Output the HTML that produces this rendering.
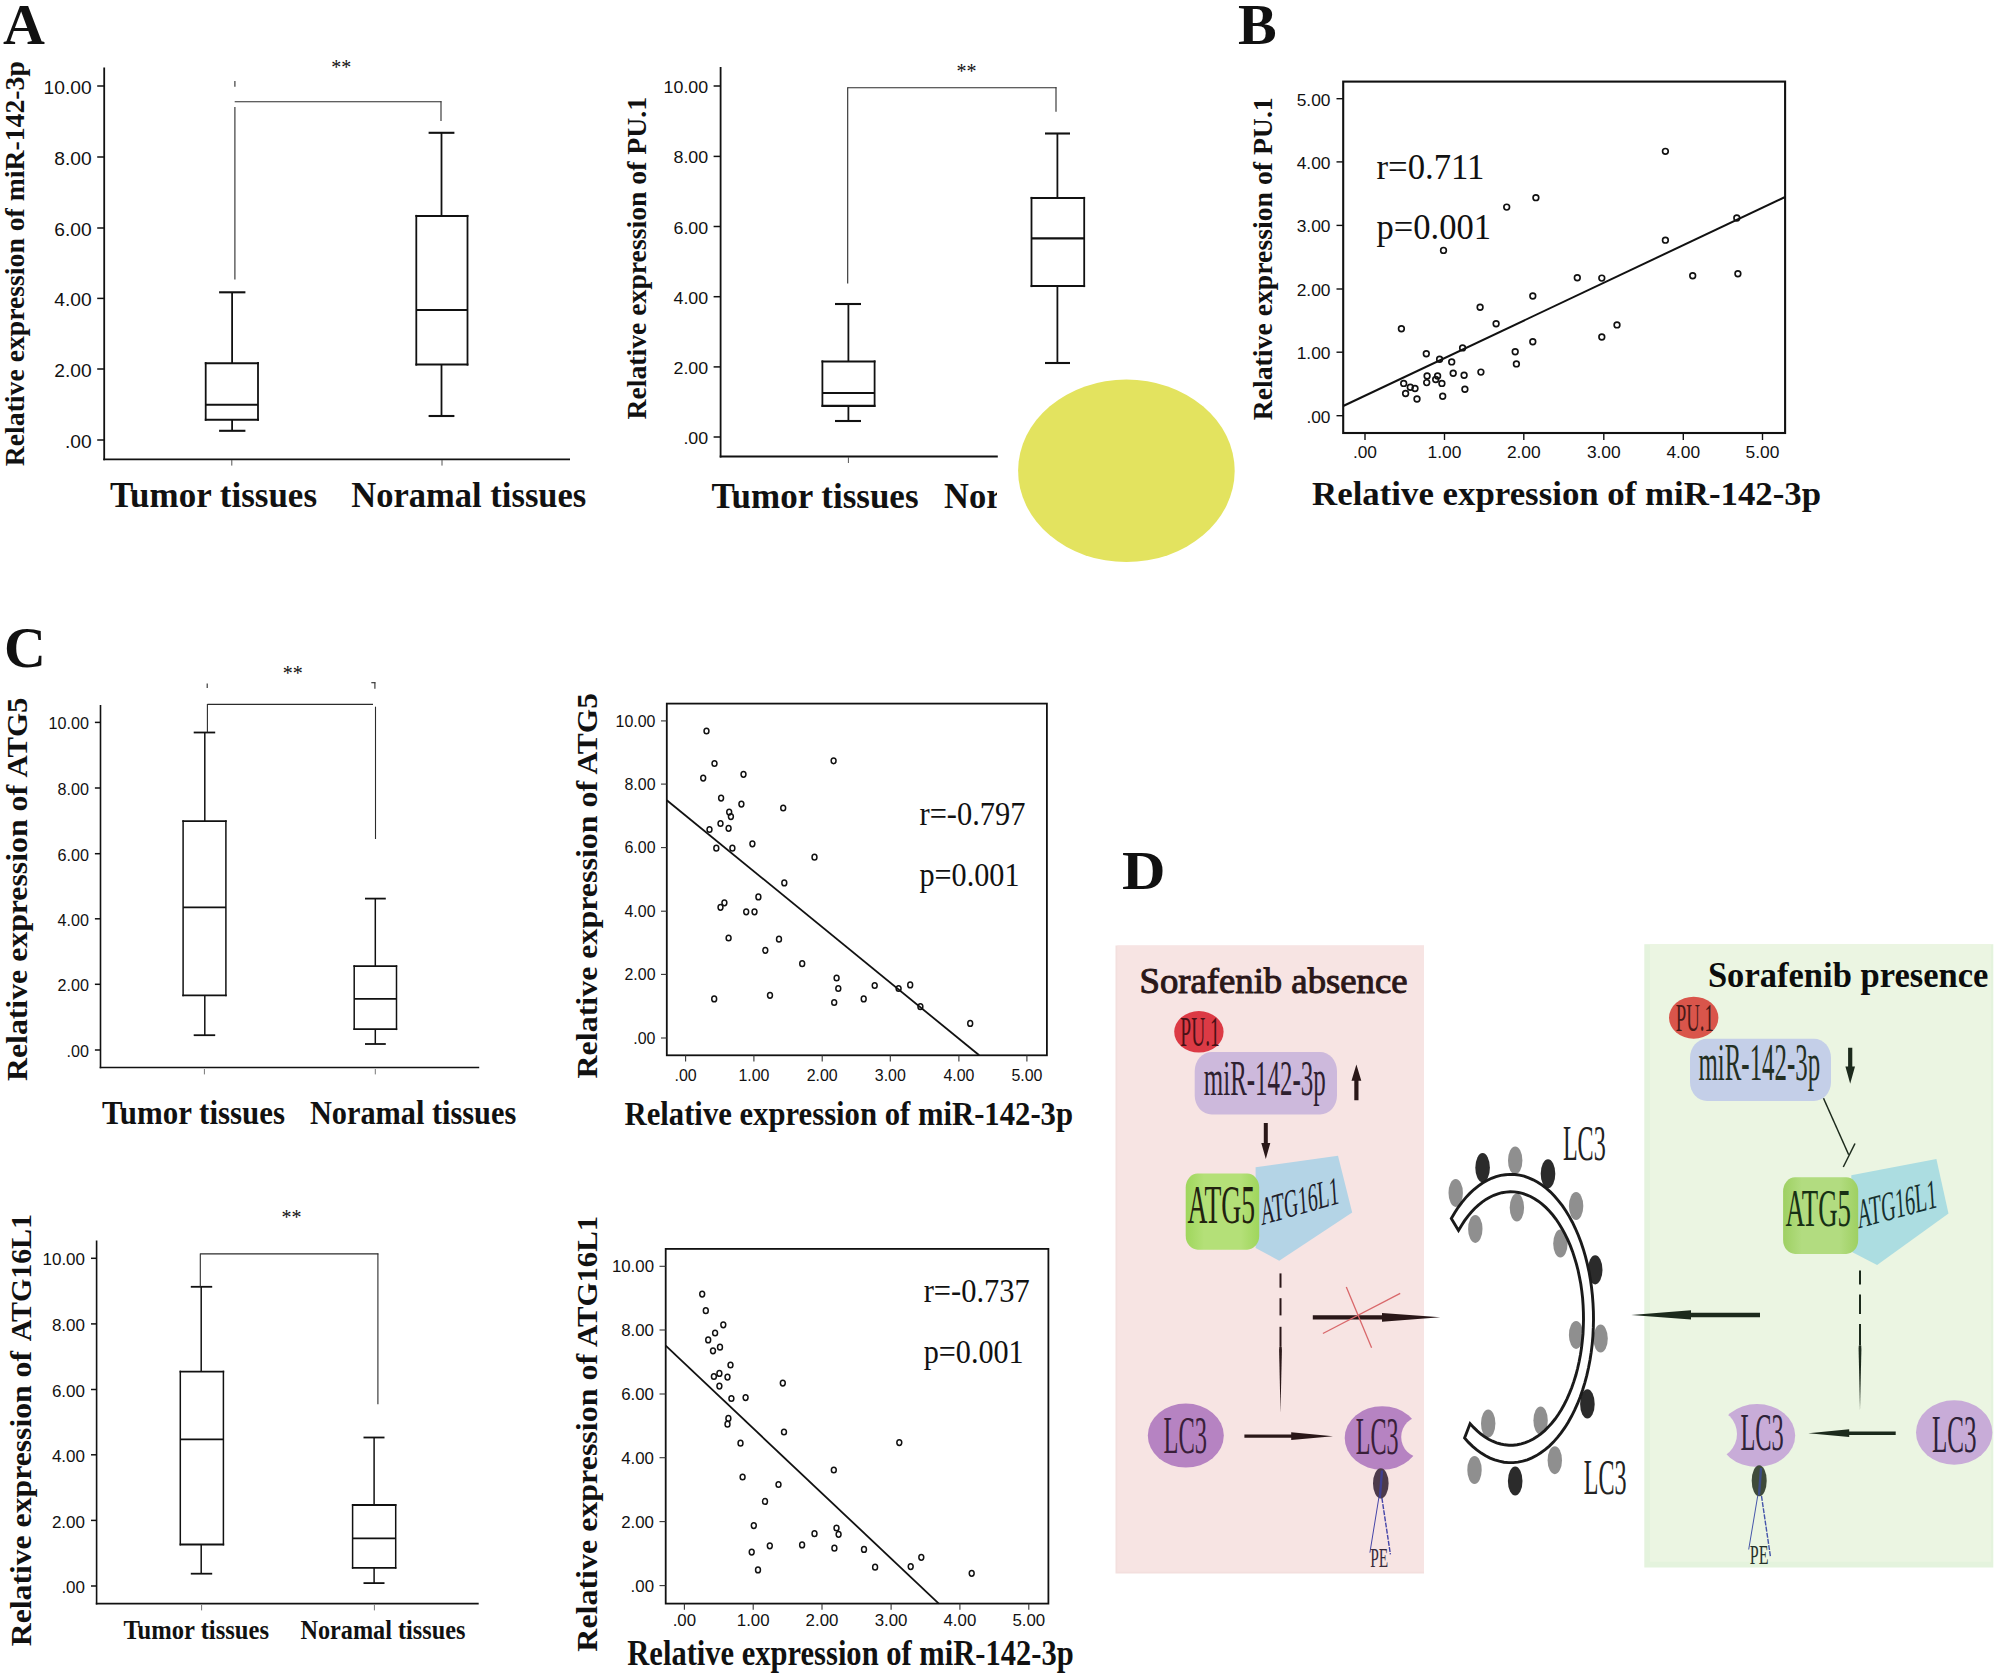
<!DOCTYPE html>
<html lang="en"><head><meta charset="utf-8"><title>Figure</title>
<style>
html,body{margin:0;padding:0;background:#fff;}
body{width:2000px;height:1676px;overflow:hidden;}
svg{display:block;}
text{white-space:pre;}
.se{font-family:"Liberation Serif","DejaVu Serif",serif;}
.sa{font-family:"Liberation Sans","DejaVu Sans",sans-serif;}
.b{font-weight:bold;}
</style></head><body>
<svg width="2000" height="1676" viewBox="0 0 2000 1676">
<rect x="0" y="0" width="2000" height="1676" fill="#fff"/>
<text x="3.0" y="44.2" class="se b" font-size="58" fill="#111">A</text>
<text x="1238.0" y="44.2" class="se b" font-size="58" fill="#111">B</text>
<text x="4.0" y="667.0" class="se b" font-size="58" fill="#111">C</text>
<text x="1122.0" y="888.8" class="se b" font-size="55" fill="#111" textLength="43.5" lengthAdjust="spacingAndGlyphs">D</text>
<g id="A1">
<line x1="104.2" y1="67.5" x2="104.2" y2="460.2" stroke="#111" stroke-width="1.8" />
<line x1="103.3" y1="459.3" x2="570.0" y2="459.3" stroke="#111" stroke-width="1.8" />
<line x1="97.2" y1="86.0" x2="104.2" y2="86.0" stroke="#111" stroke-width="1.5" />
<text x="43.6" y="93.6" class="sa" font-size="17.8" fill="#111" textLength="48.1" lengthAdjust="spacingAndGlyphs">10.00</text>
<line x1="97.2" y1="157.0" x2="104.2" y2="157.0" stroke="#111" stroke-width="1.5" />
<text x="54.3" y="164.6" class="sa" font-size="17.8" fill="#111" textLength="37.4" lengthAdjust="spacingAndGlyphs">8.00</text>
<line x1="97.2" y1="228.0" x2="104.2" y2="228.0" stroke="#111" stroke-width="1.5" />
<text x="54.3" y="235.6" class="sa" font-size="17.8" fill="#111" textLength="37.4" lengthAdjust="spacingAndGlyphs">6.00</text>
<line x1="97.2" y1="298.4" x2="104.2" y2="298.4" stroke="#111" stroke-width="1.5" />
<text x="54.3" y="306.0" class="sa" font-size="17.8" fill="#111" textLength="37.4" lengthAdjust="spacingAndGlyphs">4.00</text>
<line x1="97.2" y1="369.0" x2="104.2" y2="369.0" stroke="#111" stroke-width="1.5" />
<text x="54.3" y="376.6" class="sa" font-size="17.8" fill="#111" textLength="37.4" lengthAdjust="spacingAndGlyphs">2.00</text>
<line x1="97.2" y1="440.0" x2="104.2" y2="440.0" stroke="#111" stroke-width="1.5" />
<text x="65.0" y="447.6" class="sa" font-size="17.8" fill="#111" textLength="26.7" lengthAdjust="spacingAndGlyphs">.00</text>
<line x1="231.8" y1="460.0" x2="231.8" y2="465.6" stroke="#555" stroke-width="1" />
<line x1="442.0" y1="460.0" x2="442.0" y2="465.6" stroke="#555" stroke-width="1" />
<line x1="232.1" y1="292.3" x2="232.1" y2="363.2" stroke="#111" stroke-width="1.8" />
<line x1="232.1" y1="419.7" x2="232.1" y2="430.8" stroke="#111" stroke-width="1.8" />
<line x1="219.1" y1="292.3" x2="245.4" y2="292.3" stroke="#111" stroke-width="2.1" />
<line x1="219.1" y1="430.8" x2="245.4" y2="430.8" stroke="#111" stroke-width="2.1" />
<rect x="205.7" y="363.2" width="52.3" height="56.5" stroke="#111" stroke-width="0" fill="#fff" />
<line x1="205.7" y1="362.1" x2="205.7" y2="420.8" stroke="#111" stroke-width="1.8" />
<line x1="258.0" y1="362.1" x2="258.0" y2="420.8" stroke="#111" stroke-width="1.8" />
<line x1="204.8" y1="363.2" x2="258.9" y2="363.2" stroke="#111" stroke-width="2.1" />
<line x1="204.8" y1="419.7" x2="258.9" y2="419.7" stroke="#111" stroke-width="2.1" />
<line x1="205.7" y1="404.8" x2="258.0" y2="404.8" stroke="#111" stroke-width="2.1" />
<line x1="441.5" y1="132.8" x2="441.5" y2="216.0" stroke="#111" stroke-width="1.8" />
<line x1="441.5" y1="364.5" x2="441.5" y2="416.0" stroke="#111" stroke-width="1.8" />
<line x1="428.6" y1="132.8" x2="454.4" y2="132.8" stroke="#111" stroke-width="2.1" />
<line x1="428.6" y1="416.0" x2="454.4" y2="416.0" stroke="#111" stroke-width="2.1" />
<rect x="416.3" y="216.0" width="51.2" height="148.5" stroke="#111" stroke-width="0" fill="#fff" />
<line x1="416.3" y1="214.9" x2="416.3" y2="365.6" stroke="#111" stroke-width="1.8" />
<line x1="467.5" y1="214.9" x2="467.5" y2="365.6" stroke="#111" stroke-width="1.8" />
<line x1="415.4" y1="216.0" x2="468.4" y2="216.0" stroke="#111" stroke-width="2.1" />
<line x1="415.4" y1="364.5" x2="468.4" y2="364.5" stroke="#111" stroke-width="2.1" />
<line x1="416.3" y1="310.0" x2="467.5" y2="310.0" stroke="#111" stroke-width="2.1" />
<line x1="234.7" y1="101.7" x2="441.5" y2="101.7" stroke="#2b2b2b" stroke-width="1.1" />
<line x1="441.0" y1="101.2" x2="441.0" y2="121.0" stroke="#2b2b2b" stroke-width="1.1" />
<line x1="234.9" y1="107.0" x2="234.9" y2="279.5" stroke="#2b2b2b" stroke-width="1.1" />
<line x1="234.9" y1="81.0" x2="234.9" y2="86.7" stroke="#2b2b2b" stroke-width="1.1" />
<text x="331.3" y="73.8" class="se" font-size="20" fill="#111">**</text>
<text x="110.0" y="507.0" class="se b" font-size="35" fill="#111" textLength="207.0" lengthAdjust="spacingAndGlyphs">Tumor tissues</text>
<text x="351.3" y="507.0" class="se b" font-size="35" fill="#111" textLength="235.0" lengthAdjust="spacingAndGlyphs">Noramal tissues</text>
<text x="24.4" y="466.2" class="se b" font-size="28" fill="#111" textLength="405.0" lengthAdjust="spacingAndGlyphs" transform="rotate(-90 24.4 466.2)">Relative expression of miR-142-3p</text>
</g>
<g id="A2">
<line x1="720.6" y1="67.0" x2="720.6" y2="457.4" stroke="#111" stroke-width="1.8" />
<line x1="719.7" y1="456.5" x2="997.8" y2="456.5" stroke="#111" stroke-width="1.8" />
<line x1="713.6" y1="86.0" x2="720.6" y2="86.0" stroke="#111" stroke-width="1.5" />
<text x="663.6" y="93.0" class="sa" font-size="16.8" fill="#111" textLength="44.6" lengthAdjust="spacingAndGlyphs">10.00</text>
<line x1="713.6" y1="156.4" x2="720.6" y2="156.4" stroke="#111" stroke-width="1.5" />
<text x="673.5" y="163.4" class="sa" font-size="16.8" fill="#111" textLength="34.7" lengthAdjust="spacingAndGlyphs">8.00</text>
<line x1="713.6" y1="226.5" x2="720.6" y2="226.5" stroke="#111" stroke-width="1.5" />
<text x="673.5" y="233.5" class="sa" font-size="16.8" fill="#111" textLength="34.7" lengthAdjust="spacingAndGlyphs">6.00</text>
<line x1="713.6" y1="296.7" x2="720.6" y2="296.7" stroke="#111" stroke-width="1.5" />
<text x="673.5" y="303.7" class="sa" font-size="16.8" fill="#111" textLength="34.7" lengthAdjust="spacingAndGlyphs">4.00</text>
<line x1="713.6" y1="366.9" x2="720.6" y2="366.9" stroke="#111" stroke-width="1.5" />
<text x="673.5" y="373.9" class="sa" font-size="16.8" fill="#111" textLength="34.7" lengthAdjust="spacingAndGlyphs">2.00</text>
<line x1="713.6" y1="437.0" x2="720.6" y2="437.0" stroke="#111" stroke-width="1.5" />
<text x="683.4" y="444.0" class="sa" font-size="16.8" fill="#111" textLength="24.8" lengthAdjust="spacingAndGlyphs">.00</text>
<line x1="848.4" y1="457.0" x2="848.4" y2="463.0" stroke="#555" stroke-width="1" />
<line x1="848.4" y1="304.0" x2="848.4" y2="361.5" stroke="#111" stroke-width="1.8" />
<line x1="848.4" y1="405.9" x2="848.4" y2="421.0" stroke="#111" stroke-width="1.8" />
<line x1="835.0" y1="304.0" x2="861.0" y2="304.0" stroke="#111" stroke-width="2.1" />
<line x1="835.0" y1="421.0" x2="861.0" y2="421.0" stroke="#111" stroke-width="2.1" />
<rect x="822.4" y="361.5" width="52.2" height="44.4" stroke="#111" stroke-width="0" fill="#fff" />
<line x1="822.4" y1="360.4" x2="822.4" y2="406.9" stroke="#111" stroke-width="1.8" />
<line x1="874.6" y1="360.4" x2="874.6" y2="406.9" stroke="#111" stroke-width="1.8" />
<line x1="821.5" y1="361.5" x2="875.5" y2="361.5" stroke="#111" stroke-width="2.1" />
<line x1="821.5" y1="405.9" x2="875.5" y2="405.9" stroke="#111" stroke-width="2.1" />
<line x1="822.4" y1="393.0" x2="874.6" y2="393.0" stroke="#111" stroke-width="2.1" />
<line x1="1057.4" y1="133.5" x2="1057.4" y2="198.0" stroke="#111" stroke-width="1.8" />
<line x1="1057.4" y1="286.0" x2="1057.4" y2="363.0" stroke="#111" stroke-width="1.8" />
<line x1="1045.0" y1="133.5" x2="1070.0" y2="133.5" stroke="#111" stroke-width="2.1" />
<line x1="1045.0" y1="363.0" x2="1070.0" y2="363.0" stroke="#111" stroke-width="2.1" />
<rect x="1031.5" y="198.0" width="52.7" height="88.0" stroke="#111" stroke-width="0" fill="#fff" />
<line x1="1031.5" y1="196.9" x2="1031.5" y2="287.1" stroke="#111" stroke-width="1.8" />
<line x1="1084.2" y1="196.9" x2="1084.2" y2="287.1" stroke="#111" stroke-width="1.8" />
<line x1="1030.6" y1="198.0" x2="1085.1" y2="198.0" stroke="#111" stroke-width="2.1" />
<line x1="1030.6" y1="286.0" x2="1085.1" y2="286.0" stroke="#111" stroke-width="2.1" />
<line x1="1031.5" y1="238.4" x2="1084.2" y2="238.4" stroke="#111" stroke-width="2.1" />
<line x1="847.7" y1="87.7" x2="1056.5" y2="87.7" stroke="#2b2b2b" stroke-width="1.1" />
<line x1="1056.0" y1="87.2" x2="1056.0" y2="111.7" stroke="#2b2b2b" stroke-width="1.1" />
<line x1="847.7" y1="87.2" x2="847.7" y2="283.5" stroke="#2b2b2b" stroke-width="1.1" />
<text x="956.5" y="77.5" class="se" font-size="20" fill="#111">**</text>
<clipPath id="clipA2"><rect x="700" y="460" width="297" height="70"/></clipPath>
<g clip-path="url(#clipA2)">
<text x="711.5" y="508.0" class="se b" font-size="35" fill="#111" textLength="207.0" lengthAdjust="spacingAndGlyphs">Tumor tissues</text>
<text x="944.0" y="508.0" class="se b" font-size="35" fill="#111" textLength="235.0" lengthAdjust="spacingAndGlyphs">Noramal tissues</text>
</g>
<text x="645.8" y="419.5" class="se b" font-size="28" fill="#111" textLength="322.5" lengthAdjust="spacingAndGlyphs" transform="rotate(-90 645.8 419.5)">Relative expression of PU.1</text>
<ellipse cx="1126.4" cy="470.8" rx="108.3" ry="91.3" fill="#e3e35f"/>
</g>
<g id="B">
<rect x="1343.2" y="81.6" width="441.9" height="351.4" stroke="#111" stroke-width="2.1" fill="none" />
<line x1="1336.5" y1="98.7" x2="1343.0" y2="98.7" stroke="#111" stroke-width="1.4" />
<text x="1296.7" y="105.7" class="sa" font-size="17.2" fill="#111" textLength="33.8" lengthAdjust="spacingAndGlyphs">5.00</text>
<line x1="1336.5" y1="161.9" x2="1343.0" y2="161.9" stroke="#111" stroke-width="1.4" />
<text x="1296.7" y="168.9" class="sa" font-size="17.2" fill="#111" textLength="33.8" lengthAdjust="spacingAndGlyphs">4.00</text>
<line x1="1336.5" y1="225.4" x2="1343.0" y2="225.4" stroke="#111" stroke-width="1.4" />
<text x="1296.7" y="232.4" class="sa" font-size="17.2" fill="#111" textLength="33.8" lengthAdjust="spacingAndGlyphs">3.00</text>
<line x1="1336.5" y1="289.0" x2="1343.0" y2="289.0" stroke="#111" stroke-width="1.4" />
<text x="1296.7" y="296.0" class="sa" font-size="17.2" fill="#111" textLength="33.8" lengthAdjust="spacingAndGlyphs">2.00</text>
<line x1="1336.5" y1="352.2" x2="1343.0" y2="352.2" stroke="#111" stroke-width="1.4" />
<text x="1296.7" y="359.2" class="sa" font-size="17.2" fill="#111" textLength="33.8" lengthAdjust="spacingAndGlyphs">1.00</text>
<line x1="1336.5" y1="415.7" x2="1343.0" y2="415.7" stroke="#111" stroke-width="1.4" />
<text x="1306.4" y="422.7" class="sa" font-size="17.2" fill="#111" textLength="24.1" lengthAdjust="spacingAndGlyphs">.00</text>
<line x1="1365.0" y1="433.0" x2="1365.0" y2="440.0" stroke="#111" stroke-width="1.4" />
<text x="1352.9" y="458.2" class="sa" font-size="17.2" fill="#111" textLength="24.1" lengthAdjust="spacingAndGlyphs">.00</text>
<line x1="1444.5" y1="433.0" x2="1444.5" y2="440.0" stroke="#111" stroke-width="1.4" />
<text x="1427.6" y="458.2" class="sa" font-size="17.2" fill="#111" textLength="33.8" lengthAdjust="spacingAndGlyphs">1.00</text>
<line x1="1523.8" y1="433.0" x2="1523.8" y2="440.0" stroke="#111" stroke-width="1.4" />
<text x="1506.9" y="458.2" class="sa" font-size="17.2" fill="#111" textLength="33.8" lengthAdjust="spacingAndGlyphs">2.00</text>
<line x1="1603.8" y1="433.0" x2="1603.8" y2="440.0" stroke="#111" stroke-width="1.4" />
<text x="1586.9" y="458.2" class="sa" font-size="17.2" fill="#111" textLength="33.8" lengthAdjust="spacingAndGlyphs">3.00</text>
<line x1="1683.3" y1="433.0" x2="1683.3" y2="440.0" stroke="#111" stroke-width="1.4" />
<text x="1666.4" y="458.2" class="sa" font-size="17.2" fill="#111" textLength="33.8" lengthAdjust="spacingAndGlyphs">4.00</text>
<line x1="1762.5" y1="433.0" x2="1762.5" y2="440.0" stroke="#111" stroke-width="1.4" />
<text x="1745.6" y="458.2" class="sa" font-size="17.2" fill="#111" textLength="33.8" lengthAdjust="spacingAndGlyphs">5.00</text>
<line x1="1343.2" y1="406.0" x2="1785.1" y2="197.0" stroke="#111" stroke-width="2" />
<ellipse cx="1665.4" cy="151.3" rx="2.85" ry="2.85" fill="none" stroke="#111" stroke-width="1.65"/>
<ellipse cx="1535.9" cy="197.7" rx="2.85" ry="2.85" fill="none" stroke="#111" stroke-width="1.65"/>
<ellipse cx="1506.7" cy="207.1" rx="2.85" ry="2.85" fill="none" stroke="#111" stroke-width="1.65"/>
<ellipse cx="1736.8" cy="218.0" rx="2.85" ry="2.85" fill="none" stroke="#111" stroke-width="1.65"/>
<ellipse cx="1665.4" cy="240.2" rx="2.85" ry="2.85" fill="none" stroke="#111" stroke-width="1.65"/>
<ellipse cx="1443.5" cy="250.4" rx="2.85" ry="2.85" fill="none" stroke="#111" stroke-width="1.65"/>
<ellipse cx="1737.9" cy="273.8" rx="2.85" ry="2.85" fill="none" stroke="#111" stroke-width="1.65"/>
<ellipse cx="1692.7" cy="275.7" rx="2.85" ry="2.85" fill="none" stroke="#111" stroke-width="1.65"/>
<ellipse cx="1577.3" cy="277.7" rx="2.85" ry="2.85" fill="none" stroke="#111" stroke-width="1.65"/>
<ellipse cx="1601.8" cy="278.1" rx="2.85" ry="2.85" fill="none" stroke="#111" stroke-width="1.65"/>
<ellipse cx="1532.8" cy="296.0" rx="2.85" ry="2.85" fill="none" stroke="#111" stroke-width="1.65"/>
<ellipse cx="1480.1" cy="307.3" rx="2.85" ry="2.85" fill="none" stroke="#111" stroke-width="1.65"/>
<ellipse cx="1496.1" cy="323.7" rx="2.85" ry="2.85" fill="none" stroke="#111" stroke-width="1.65"/>
<ellipse cx="1617.0" cy="324.9" rx="2.85" ry="2.85" fill="none" stroke="#111" stroke-width="1.65"/>
<ellipse cx="1401.4" cy="328.8" rx="2.85" ry="2.85" fill="none" stroke="#111" stroke-width="1.65"/>
<ellipse cx="1601.8" cy="337.0" rx="2.85" ry="2.85" fill="none" stroke="#111" stroke-width="1.65"/>
<ellipse cx="1532.8" cy="341.7" rx="2.85" ry="2.85" fill="none" stroke="#111" stroke-width="1.65"/>
<ellipse cx="1462.6" cy="347.9" rx="2.85" ry="2.85" fill="none" stroke="#111" stroke-width="1.65"/>
<ellipse cx="1515.2" cy="351.8" rx="2.85" ry="2.85" fill="none" stroke="#111" stroke-width="1.65"/>
<ellipse cx="1426.3" cy="353.7" rx="2.85" ry="2.85" fill="none" stroke="#111" stroke-width="1.65"/>
<ellipse cx="1439.6" cy="359.2" rx="2.85" ry="2.85" fill="none" stroke="#111" stroke-width="1.65"/>
<ellipse cx="1451.7" cy="361.9" rx="2.85" ry="2.85" fill="none" stroke="#111" stroke-width="1.65"/>
<ellipse cx="1516.4" cy="363.9" rx="2.85" ry="2.85" fill="none" stroke="#111" stroke-width="1.65"/>
<ellipse cx="1480.9" cy="372.1" rx="2.85" ry="2.85" fill="none" stroke="#111" stroke-width="1.65"/>
<ellipse cx="1453.2" cy="373.2" rx="2.85" ry="2.85" fill="none" stroke="#111" stroke-width="1.65"/>
<ellipse cx="1464.1" cy="375.2" rx="2.85" ry="2.85" fill="none" stroke="#111" stroke-width="1.65"/>
<ellipse cx="1427.1" cy="376.0" rx="2.85" ry="2.85" fill="none" stroke="#111" stroke-width="1.65"/>
<ellipse cx="1437.6" cy="376.0" rx="2.85" ry="2.85" fill="none" stroke="#111" stroke-width="1.65"/>
<ellipse cx="1426.7" cy="382.6" rx="2.85" ry="2.85" fill="none" stroke="#111" stroke-width="1.65"/>
<ellipse cx="1435.7" cy="379.5" rx="2.85" ry="2.85" fill="none" stroke="#111" stroke-width="1.65"/>
<ellipse cx="1403.7" cy="383.4" rx="2.85" ry="2.85" fill="none" stroke="#111" stroke-width="1.65"/>
<ellipse cx="1441.9" cy="383.4" rx="2.85" ry="2.85" fill="none" stroke="#111" stroke-width="1.65"/>
<ellipse cx="1410.3" cy="387.3" rx="2.85" ry="2.85" fill="none" stroke="#111" stroke-width="1.65"/>
<ellipse cx="1415.0" cy="388.5" rx="2.85" ry="2.85" fill="none" stroke="#111" stroke-width="1.65"/>
<ellipse cx="1464.9" cy="389.2" rx="2.85" ry="2.85" fill="none" stroke="#111" stroke-width="1.65"/>
<ellipse cx="1405.6" cy="393.5" rx="2.85" ry="2.85" fill="none" stroke="#111" stroke-width="1.65"/>
<ellipse cx="1442.7" cy="396.3" rx="2.85" ry="2.85" fill="none" stroke="#111" stroke-width="1.65"/>
<ellipse cx="1417.0" cy="399.0" rx="2.85" ry="2.85" fill="none" stroke="#111" stroke-width="1.65"/>
<text x="1376.5" y="178.9" class="se" font-size="35" fill="#111" textLength="108.0" lengthAdjust="spacingAndGlyphs">r=0.711</text>
<text x="1376.5" y="239.4" class="se" font-size="35" fill="#111" textLength="114.5" lengthAdjust="spacingAndGlyphs">p=0.001</text>
<text x="1312.1" y="504.8" class="se b" font-size="33" fill="#111" textLength="509.0" lengthAdjust="spacingAndGlyphs">Relative expression of miR-142-3p</text>
<text x="1272.0" y="420.3" class="se b" font-size="27.5" fill="#111" textLength="323.0" lengthAdjust="spacingAndGlyphs" transform="rotate(-90 1272.0 420.3)">Relative expression of PU.1</text>
</g>
<g id="C1">
<line x1="100.5" y1="704.9" x2="100.5" y2="1068.3" stroke="#111" stroke-width="1.6" />
<line x1="99.7" y1="1067.5" x2="479.2" y2="1067.5" stroke="#111" stroke-width="1.6" />
<line x1="94.9" y1="722.4" x2="100.5" y2="722.4" stroke="#111" stroke-width="1.5" />
<text x="48.5" y="729.4" class="sa" font-size="16.3" fill="#111" textLength="40.4" lengthAdjust="spacingAndGlyphs">10.00</text>
<line x1="94.9" y1="788.0" x2="100.5" y2="788.0" stroke="#111" stroke-width="1.5" />
<text x="57.5" y="795.0" class="sa" font-size="16.3" fill="#111" textLength="31.4" lengthAdjust="spacingAndGlyphs">8.00</text>
<line x1="94.9" y1="853.7" x2="100.5" y2="853.7" stroke="#111" stroke-width="1.5" />
<text x="57.5" y="860.7" class="sa" font-size="16.3" fill="#111" textLength="31.4" lengthAdjust="spacingAndGlyphs">6.00</text>
<line x1="94.9" y1="918.8" x2="100.5" y2="918.8" stroke="#111" stroke-width="1.5" />
<text x="57.5" y="925.8" class="sa" font-size="16.3" fill="#111" textLength="31.4" lengthAdjust="spacingAndGlyphs">4.00</text>
<line x1="94.9" y1="984.3" x2="100.5" y2="984.3" stroke="#111" stroke-width="1.5" />
<text x="57.5" y="991.3" class="sa" font-size="16.3" fill="#111" textLength="31.4" lengthAdjust="spacingAndGlyphs">2.00</text>
<line x1="94.9" y1="1050.0" x2="100.5" y2="1050.0" stroke="#111" stroke-width="1.5" />
<text x="66.5" y="1057.0" class="sa" font-size="16.3" fill="#111" textLength="22.4" lengthAdjust="spacingAndGlyphs">.00</text>
<line x1="204.4" y1="1069.0" x2="204.4" y2="1074.4" stroke="#777" stroke-width="1" />
<line x1="375.3" y1="1069.0" x2="375.3" y2="1074.4" stroke="#777" stroke-width="1" />
<line x1="204.8" y1="732.5" x2="204.8" y2="821.2" stroke="#111" stroke-width="1.5" />
<line x1="204.8" y1="995.3" x2="204.8" y2="1035.2" stroke="#111" stroke-width="1.5" />
<line x1="193.7" y1="732.5" x2="215.2" y2="732.5" stroke="#111" stroke-width="1.8" />
<line x1="193.7" y1="1035.2" x2="215.2" y2="1035.2" stroke="#111" stroke-width="1.8" />
<rect x="183.1" y="821.2" width="42.8" height="174.1" stroke="#111" stroke-width="0" fill="#fff" />
<line x1="183.1" y1="820.3" x2="183.1" y2="996.2" stroke="#111" stroke-width="1.5" />
<line x1="225.9" y1="820.3" x2="225.9" y2="996.2" stroke="#111" stroke-width="1.5" />
<line x1="182.3" y1="821.2" x2="226.7" y2="821.2" stroke="#111" stroke-width="1.8" />
<line x1="182.3" y1="995.3" x2="226.7" y2="995.3" stroke="#111" stroke-width="1.8" />
<line x1="183.1" y1="907.4" x2="225.9" y2="907.4" stroke="#111" stroke-width="1.8" />
<line x1="375.3" y1="898.6" x2="375.3" y2="966.2" stroke="#111" stroke-width="1.5" />
<line x1="375.3" y1="1029.2" x2="375.3" y2="1044.0" stroke="#111" stroke-width="1.5" />
<line x1="365.0" y1="898.6" x2="385.8" y2="898.6" stroke="#111" stroke-width="1.8" />
<line x1="365.0" y1="1044.0" x2="385.8" y2="1044.0" stroke="#111" stroke-width="1.8" />
<rect x="354.2" y="966.2" width="42.3" height="63.0" stroke="#111" stroke-width="0" fill="#fff" />
<line x1="354.2" y1="965.3" x2="354.2" y2="1030.1" stroke="#111" stroke-width="1.5" />
<line x1="396.5" y1="965.3" x2="396.5" y2="1030.1" stroke="#111" stroke-width="1.5" />
<line x1="353.4" y1="966.2" x2="397.2" y2="966.2" stroke="#111" stroke-width="1.8" />
<line x1="353.4" y1="1029.2" x2="397.2" y2="1029.2" stroke="#111" stroke-width="1.8" />
<line x1="354.2" y1="998.8" x2="396.5" y2="998.8" stroke="#111" stroke-width="1.8" />
<line x1="207.4" y1="704.4" x2="373.0" y2="704.4" stroke="#2b2b2b" stroke-width="1.2" />
<line x1="207.4" y1="704.0" x2="207.4" y2="732.5" stroke="#2b2b2b" stroke-width="1.1" />
<line x1="375.5" y1="706.7" x2="375.5" y2="839.0" stroke="#2b2b2b" stroke-width="1.1" />
<line x1="207.2" y1="683.4" x2="207.2" y2="688.0" stroke="#2b2b2b" stroke-width="1.1" />
<line x1="371.3" y1="682.7" x2="375.5" y2="682.7" stroke="#2b2b2b" stroke-width="1.1" />
<line x1="374.9" y1="682.5" x2="374.9" y2="688.8" stroke="#2b2b2b" stroke-width="1.1" />
<text x="282.7" y="680.3" class="se" font-size="20" fill="#111">**</text>
<text x="102.0" y="1124.2" class="se b" font-size="34" fill="#111" textLength="183.0" lengthAdjust="spacingAndGlyphs">Tumor tissues</text>
<text x="309.9" y="1124.2" class="se b" font-size="34" fill="#111" textLength="206.3" lengthAdjust="spacingAndGlyphs">Noramal tissues</text>
<text x="26.8" y="1081.0" class="se b" font-size="28.5" fill="#111" textLength="296.0" lengthAdjust="spacingAndGlyphs" transform="rotate(-90 26.8 1081.0)">Relative expression of</text>
<text x="26.8" y="777.5" class="se b" font-size="28.5" fill="#111" textLength="80.0" lengthAdjust="spacingAndGlyphs" transform="rotate(-90 26.8 777.5)">ATG5</text>
</g>
<g id="C2">
<rect x="666.8" y="703.6" width="380.1" height="351.7" stroke="#111" stroke-width="1.8" fill="none" />
<line x1="661.0" y1="720.9" x2="666.8" y2="720.9" stroke="#333" stroke-width="1.1" />
<text x="615.6" y="726.7" class="sa" font-size="16.1" fill="#111" textLength="39.9" lengthAdjust="spacingAndGlyphs">10.00</text>
<line x1="661.0" y1="784.1" x2="666.8" y2="784.1" stroke="#333" stroke-width="1.1" />
<text x="624.5" y="789.9" class="sa" font-size="16.1" fill="#111" textLength="31.0" lengthAdjust="spacingAndGlyphs">8.00</text>
<line x1="661.0" y1="847.6" x2="666.8" y2="847.6" stroke="#333" stroke-width="1.1" />
<text x="624.5" y="853.4" class="sa" font-size="16.1" fill="#111" textLength="31.0" lengthAdjust="spacingAndGlyphs">6.00</text>
<line x1="661.0" y1="911.2" x2="666.8" y2="911.2" stroke="#333" stroke-width="1.1" />
<text x="624.5" y="917.0" class="sa" font-size="16.1" fill="#111" textLength="31.0" lengthAdjust="spacingAndGlyphs">4.00</text>
<line x1="661.0" y1="974.4" x2="666.8" y2="974.4" stroke="#333" stroke-width="1.1" />
<text x="624.5" y="980.2" class="sa" font-size="16.1" fill="#111" textLength="31.0" lengthAdjust="spacingAndGlyphs">2.00</text>
<line x1="661.0" y1="1038.0" x2="666.8" y2="1038.0" stroke="#333" stroke-width="1.1" />
<text x="633.3" y="1043.8" class="sa" font-size="16.1" fill="#111" textLength="22.2" lengthAdjust="spacingAndGlyphs">.00</text>
<line x1="685.6" y1="1055.3" x2="685.6" y2="1061.5" stroke="#333" stroke-width="1.1" />
<text x="674.5" y="1081.0" class="sa" font-size="16.1" fill="#111" textLength="22.2" lengthAdjust="spacingAndGlyphs">.00</text>
<line x1="753.9" y1="1055.3" x2="753.9" y2="1061.5" stroke="#333" stroke-width="1.1" />
<text x="738.4" y="1081.0" class="sa" font-size="16.1" fill="#111" textLength="31.0" lengthAdjust="spacingAndGlyphs">1.00</text>
<line x1="822.2" y1="1055.3" x2="822.2" y2="1061.5" stroke="#333" stroke-width="1.1" />
<text x="806.7" y="1081.0" class="sa" font-size="16.1" fill="#111" textLength="31.0" lengthAdjust="spacingAndGlyphs">2.00</text>
<line x1="890.3" y1="1055.3" x2="890.3" y2="1061.5" stroke="#333" stroke-width="1.1" />
<text x="874.8" y="1081.0" class="sa" font-size="16.1" fill="#111" textLength="31.0" lengthAdjust="spacingAndGlyphs">3.00</text>
<line x1="958.9" y1="1055.3" x2="958.9" y2="1061.5" stroke="#333" stroke-width="1.1" />
<text x="943.4" y="1081.0" class="sa" font-size="16.1" fill="#111" textLength="31.0" lengthAdjust="spacingAndGlyphs">4.00</text>
<line x1="1026.9" y1="1055.3" x2="1026.9" y2="1061.5" stroke="#333" stroke-width="1.1" />
<text x="1011.4" y="1081.0" class="sa" font-size="16.1" fill="#111" textLength="31.0" lengthAdjust="spacingAndGlyphs">5.00</text>
<line x1="666.8" y1="800.2" x2="979.2" y2="1055.3" stroke="#111" stroke-width="1.8" />
<ellipse cx="706.5" cy="731.0" rx="2.45" ry="2.85" fill="none" stroke="#111" stroke-width="1.5"/>
<ellipse cx="714.5" cy="763.5" rx="2.45" ry="2.85" fill="none" stroke="#111" stroke-width="1.5"/>
<ellipse cx="833.6" cy="760.8" rx="2.45" ry="2.85" fill="none" stroke="#111" stroke-width="1.5"/>
<ellipse cx="703.2" cy="778.1" rx="2.45" ry="2.85" fill="none" stroke="#111" stroke-width="1.5"/>
<ellipse cx="743.5" cy="774.3" rx="2.45" ry="2.85" fill="none" stroke="#111" stroke-width="1.5"/>
<ellipse cx="721.1" cy="798.1" rx="2.45" ry="2.85" fill="none" stroke="#111" stroke-width="1.5"/>
<ellipse cx="741.4" cy="804.1" rx="2.45" ry="2.85" fill="none" stroke="#111" stroke-width="1.5"/>
<ellipse cx="783.2" cy="808.0" rx="2.45" ry="2.85" fill="none" stroke="#111" stroke-width="1.5"/>
<ellipse cx="729.2" cy="812.1" rx="2.45" ry="2.85" fill="none" stroke="#111" stroke-width="1.5"/>
<ellipse cx="730.9" cy="816.6" rx="2.45" ry="2.85" fill="none" stroke="#111" stroke-width="1.5"/>
<ellipse cx="720.5" cy="823.5" rx="2.45" ry="2.85" fill="none" stroke="#111" stroke-width="1.5"/>
<ellipse cx="709.5" cy="829.5" rx="2.45" ry="2.85" fill="none" stroke="#111" stroke-width="1.5"/>
<ellipse cx="728.6" cy="828.3" rx="2.45" ry="2.85" fill="none" stroke="#111" stroke-width="1.5"/>
<ellipse cx="716.3" cy="848.2" rx="2.45" ry="2.85" fill="none" stroke="#111" stroke-width="1.5"/>
<ellipse cx="732.4" cy="848.2" rx="2.45" ry="2.85" fill="none" stroke="#111" stroke-width="1.5"/>
<ellipse cx="752.4" cy="843.8" rx="2.45" ry="2.85" fill="none" stroke="#111" stroke-width="1.5"/>
<ellipse cx="814.5" cy="857.2" rx="2.45" ry="2.85" fill="none" stroke="#111" stroke-width="1.5"/>
<ellipse cx="784.3" cy="882.9" rx="2.45" ry="2.85" fill="none" stroke="#111" stroke-width="1.5"/>
<ellipse cx="758.4" cy="896.9" rx="2.45" ry="2.85" fill="none" stroke="#111" stroke-width="1.5"/>
<ellipse cx="724.4" cy="902.8" rx="2.45" ry="2.85" fill="none" stroke="#111" stroke-width="1.5"/>
<ellipse cx="720.5" cy="907.3" rx="2.45" ry="2.85" fill="none" stroke="#111" stroke-width="1.5"/>
<ellipse cx="746.2" cy="911.8" rx="2.45" ry="2.85" fill="none" stroke="#111" stroke-width="1.5"/>
<ellipse cx="754.5" cy="911.8" rx="2.45" ry="2.85" fill="none" stroke="#111" stroke-width="1.5"/>
<ellipse cx="728.6" cy="938.0" rx="2.45" ry="2.85" fill="none" stroke="#111" stroke-width="1.5"/>
<ellipse cx="779.0" cy="939.2" rx="2.45" ry="2.85" fill="none" stroke="#111" stroke-width="1.5"/>
<ellipse cx="765.3" cy="950.3" rx="2.45" ry="2.85" fill="none" stroke="#111" stroke-width="1.5"/>
<ellipse cx="802.2" cy="963.7" rx="2.45" ry="2.85" fill="none" stroke="#111" stroke-width="1.5"/>
<ellipse cx="836.6" cy="978.0" rx="2.45" ry="2.85" fill="none" stroke="#111" stroke-width="1.5"/>
<ellipse cx="838.3" cy="988.5" rx="2.45" ry="2.85" fill="none" stroke="#111" stroke-width="1.5"/>
<ellipse cx="874.7" cy="985.5" rx="2.45" ry="2.85" fill="none" stroke="#111" stroke-width="1.5"/>
<ellipse cx="910.2" cy="984.9" rx="2.45" ry="2.85" fill="none" stroke="#111" stroke-width="1.5"/>
<ellipse cx="898.6" cy="988.5" rx="2.45" ry="2.85" fill="none" stroke="#111" stroke-width="1.5"/>
<ellipse cx="714.2" cy="998.9" rx="2.45" ry="2.85" fill="none" stroke="#111" stroke-width="1.5"/>
<ellipse cx="770.0" cy="995.3" rx="2.45" ry="2.85" fill="none" stroke="#111" stroke-width="1.5"/>
<ellipse cx="863.7" cy="998.9" rx="2.45" ry="2.85" fill="none" stroke="#111" stroke-width="1.5"/>
<ellipse cx="834.2" cy="1002.5" rx="2.45" ry="2.85" fill="none" stroke="#111" stroke-width="1.5"/>
<ellipse cx="920.4" cy="1006.7" rx="2.45" ry="2.85" fill="none" stroke="#111" stroke-width="1.5"/>
<ellipse cx="970.2" cy="1023.4" rx="2.45" ry="2.85" fill="none" stroke="#111" stroke-width="1.5"/>
<text x="919.5" y="825.0" class="se" font-size="33" fill="#111" textLength="106.0" lengthAdjust="spacingAndGlyphs">r=-0.797</text>
<text x="919.5" y="885.8" class="se" font-size="33" fill="#111" textLength="100.0" lengthAdjust="spacingAndGlyphs">p=0.001</text>
<text x="624.5" y="1125.0" class="se b" font-size="34.5" fill="#111" textLength="448.5" lengthAdjust="spacingAndGlyphs">Relative expression of miR-142-3p</text>
<text x="596.6" y="1078.5" class="se b" font-size="28.5" fill="#111" textLength="297.7" lengthAdjust="spacingAndGlyphs" transform="rotate(-90 596.6 1078.5)">Relative expression of</text>
<text x="596.6" y="774.5" class="se b" font-size="28.5" fill="#111" textLength="81.5" lengthAdjust="spacingAndGlyphs" transform="rotate(-90 596.6 774.5)">ATG5</text>
</g>
<g id="C3">
<line x1="96.6" y1="1240.6" x2="96.6" y2="1604.4" stroke="#111" stroke-width="1.6" />
<line x1="95.8" y1="1603.6" x2="478.7" y2="1603.6" stroke="#111" stroke-width="1.6" />
<line x1="91.0" y1="1258.3" x2="96.6" y2="1258.3" stroke="#111" stroke-width="1.5" />
<text x="42.5" y="1265.4" class="sa" font-size="16.5" fill="#111" textLength="42.5" lengthAdjust="spacingAndGlyphs">10.00</text>
<line x1="91.0" y1="1323.9" x2="96.6" y2="1323.9" stroke="#111" stroke-width="1.5" />
<text x="51.9" y="1331.0" class="sa" font-size="16.5" fill="#111" textLength="33.1" lengthAdjust="spacingAndGlyphs">8.00</text>
<line x1="91.0" y1="1389.5" x2="96.6" y2="1389.5" stroke="#111" stroke-width="1.5" />
<text x="51.9" y="1396.6" class="sa" font-size="16.5" fill="#111" textLength="33.1" lengthAdjust="spacingAndGlyphs">6.00</text>
<line x1="91.0" y1="1454.8" x2="96.6" y2="1454.8" stroke="#111" stroke-width="1.5" />
<text x="51.9" y="1461.9" class="sa" font-size="16.5" fill="#111" textLength="33.1" lengthAdjust="spacingAndGlyphs">4.00</text>
<line x1="91.0" y1="1520.4" x2="96.6" y2="1520.4" stroke="#111" stroke-width="1.5" />
<text x="51.9" y="1527.5" class="sa" font-size="16.5" fill="#111" textLength="33.1" lengthAdjust="spacingAndGlyphs">2.00</text>
<line x1="91.0" y1="1586.0" x2="96.6" y2="1586.0" stroke="#111" stroke-width="1.5" />
<text x="61.4" y="1593.1" class="sa" font-size="16.5" fill="#111" textLength="23.6" lengthAdjust="spacingAndGlyphs">.00</text>
<line x1="201.6" y1="1605.0" x2="201.6" y2="1610.4" stroke="#777" stroke-width="1" />
<line x1="374.4" y1="1605.0" x2="374.4" y2="1610.4" stroke="#777" stroke-width="1" />
<line x1="201.2" y1="1286.8" x2="201.2" y2="1371.6" stroke="#111" stroke-width="1.5" />
<line x1="201.2" y1="1544.5" x2="201.2" y2="1573.7" stroke="#111" stroke-width="1.5" />
<line x1="190.8" y1="1286.8" x2="212.2" y2="1286.8" stroke="#111" stroke-width="1.8" />
<line x1="190.8" y1="1573.7" x2="212.2" y2="1573.7" stroke="#111" stroke-width="1.8" />
<rect x="180.3" y="1371.6" width="43.1" height="172.9" stroke="#111" stroke-width="0" fill="#fff" />
<line x1="180.3" y1="1370.7" x2="180.3" y2="1545.4" stroke="#111" stroke-width="1.5" />
<line x1="223.4" y1="1370.7" x2="223.4" y2="1545.4" stroke="#111" stroke-width="1.5" />
<line x1="179.6" y1="1371.6" x2="224.2" y2="1371.6" stroke="#111" stroke-width="1.8" />
<line x1="179.6" y1="1544.5" x2="224.2" y2="1544.5" stroke="#111" stroke-width="1.8" />
<line x1="180.3" y1="1439.4" x2="223.4" y2="1439.4" stroke="#111" stroke-width="1.8" />
<line x1="374.1" y1="1437.5" x2="374.1" y2="1505.0" stroke="#111" stroke-width="1.5" />
<line x1="374.1" y1="1567.8" x2="374.1" y2="1583.1" stroke="#111" stroke-width="1.5" />
<line x1="363.5" y1="1437.5" x2="384.5" y2="1437.5" stroke="#111" stroke-width="1.8" />
<line x1="363.5" y1="1583.1" x2="384.5" y2="1583.1" stroke="#111" stroke-width="1.8" />
<rect x="352.6" y="1505.0" width="43.1" height="62.8" stroke="#111" stroke-width="0" fill="#fff" />
<line x1="352.6" y1="1504.1" x2="352.6" y2="1568.7" stroke="#111" stroke-width="1.5" />
<line x1="395.7" y1="1504.1" x2="395.7" y2="1568.7" stroke="#111" stroke-width="1.5" />
<line x1="351.9" y1="1505.0" x2="396.4" y2="1505.0" stroke="#111" stroke-width="1.8" />
<line x1="351.9" y1="1567.8" x2="396.4" y2="1567.8" stroke="#111" stroke-width="1.8" />
<line x1="352.6" y1="1538.3" x2="395.7" y2="1538.3" stroke="#111" stroke-width="1.8" />
<line x1="200.3" y1="1253.9" x2="378.4" y2="1253.9" stroke="#2b2b2b" stroke-width="1.1" />
<line x1="200.3" y1="1253.4" x2="200.3" y2="1286.8" stroke="#2b2b2b" stroke-width="1.1" />
<line x1="377.9" y1="1253.4" x2="377.9" y2="1404.2" stroke="#2b2b2b" stroke-width="1.1" />
<text x="281.5" y="1224.3" class="se" font-size="20" fill="#111">**</text>
<text x="123.4" y="1639.0" class="se b" font-size="26.5" fill="#111" textLength="145.6" lengthAdjust="spacingAndGlyphs">Tumor tissues</text>
<text x="300.4" y="1639.0" class="se b" font-size="26.5" fill="#111" textLength="165.0" lengthAdjust="spacingAndGlyphs">Noramal tissues</text>
<text x="31.4" y="1646.2" class="se b" font-size="28.5" fill="#111" textLength="295.2" lengthAdjust="spacingAndGlyphs" transform="rotate(-90 31.4 1646.2)">Relative expression of</text>
<text x="31.4" y="1341.3" class="se b" font-size="28.5" fill="#111" textLength="127.3" lengthAdjust="spacingAndGlyphs" transform="rotate(-90 31.4 1341.3)">ATG16L1</text>
</g>
<g id="C4">
<rect x="665.7" y="1248.9" width="382.7" height="354.7" stroke="#111" stroke-width="1.8" fill="none" />
<line x1="659.5" y1="1266.3" x2="665.7" y2="1266.3" stroke="#333" stroke-width="1.1" />
<text x="611.9" y="1272.2" class="sa" font-size="16.5" fill="#111" textLength="42.1" lengthAdjust="spacingAndGlyphs">10.00</text>
<line x1="659.5" y1="1330.0" x2="665.7" y2="1330.0" stroke="#333" stroke-width="1.1" />
<text x="621.2" y="1335.9" class="sa" font-size="16.5" fill="#111" textLength="32.8" lengthAdjust="spacingAndGlyphs">8.00</text>
<line x1="659.5" y1="1394.0" x2="665.7" y2="1394.0" stroke="#333" stroke-width="1.1" />
<text x="621.2" y="1399.9" class="sa" font-size="16.5" fill="#111" textLength="32.8" lengthAdjust="spacingAndGlyphs">6.00</text>
<line x1="659.5" y1="1457.7" x2="665.7" y2="1457.7" stroke="#333" stroke-width="1.1" />
<text x="621.2" y="1463.6" class="sa" font-size="16.5" fill="#111" textLength="32.8" lengthAdjust="spacingAndGlyphs">4.00</text>
<line x1="659.5" y1="1521.6" x2="665.7" y2="1521.6" stroke="#333" stroke-width="1.1" />
<text x="621.2" y="1527.5" class="sa" font-size="16.5" fill="#111" textLength="32.8" lengthAdjust="spacingAndGlyphs">2.00</text>
<line x1="659.5" y1="1585.6" x2="665.7" y2="1585.6" stroke="#333" stroke-width="1.1" />
<text x="630.6" y="1591.5" class="sa" font-size="16.5" fill="#111" textLength="23.4" lengthAdjust="spacingAndGlyphs">.00</text>
<line x1="684.4" y1="1603.6" x2="684.4" y2="1609.8" stroke="#333" stroke-width="1.1" />
<text x="672.7" y="1626.4" class="sa" font-size="16.5" fill="#111" textLength="23.4" lengthAdjust="spacingAndGlyphs">.00</text>
<line x1="753.2" y1="1603.6" x2="753.2" y2="1609.8" stroke="#333" stroke-width="1.1" />
<text x="736.8" y="1626.4" class="sa" font-size="16.5" fill="#111" textLength="32.8" lengthAdjust="spacingAndGlyphs">1.00</text>
<line x1="822.0" y1="1603.6" x2="822.0" y2="1609.8" stroke="#333" stroke-width="1.1" />
<text x="805.6" y="1626.4" class="sa" font-size="16.5" fill="#111" textLength="32.8" lengthAdjust="spacingAndGlyphs">2.00</text>
<line x1="891.1" y1="1603.6" x2="891.1" y2="1609.8" stroke="#333" stroke-width="1.1" />
<text x="874.7" y="1626.4" class="sa" font-size="16.5" fill="#111" textLength="32.8" lengthAdjust="spacingAndGlyphs">3.00</text>
<line x1="959.9" y1="1603.6" x2="959.9" y2="1609.8" stroke="#333" stroke-width="1.1" />
<text x="943.5" y="1626.4" class="sa" font-size="16.5" fill="#111" textLength="32.8" lengthAdjust="spacingAndGlyphs">4.00</text>
<line x1="1028.8" y1="1603.6" x2="1028.8" y2="1609.8" stroke="#333" stroke-width="1.1" />
<text x="1012.4" y="1626.4" class="sa" font-size="16.5" fill="#111" textLength="32.8" lengthAdjust="spacingAndGlyphs">5.00</text>
<line x1="665.7" y1="1345.7" x2="938.8" y2="1603.6" stroke="#111" stroke-width="1.8" />
<ellipse cx="702.2" cy="1294.1" rx="2.45" ry="2.85" fill="none" stroke="#111" stroke-width="1.5"/>
<ellipse cx="705.8" cy="1310.7" rx="2.45" ry="2.85" fill="none" stroke="#111" stroke-width="1.5"/>
<ellipse cx="723.3" cy="1324.8" rx="2.45" ry="2.85" fill="none" stroke="#111" stroke-width="1.5"/>
<ellipse cx="715.1" cy="1333.0" rx="2.45" ry="2.85" fill="none" stroke="#111" stroke-width="1.5"/>
<ellipse cx="708.2" cy="1339.9" rx="2.45" ry="2.85" fill="none" stroke="#111" stroke-width="1.5"/>
<ellipse cx="720.0" cy="1347.2" rx="2.45" ry="2.85" fill="none" stroke="#111" stroke-width="1.5"/>
<ellipse cx="713.0" cy="1350.8" rx="2.45" ry="2.85" fill="none" stroke="#111" stroke-width="1.5"/>
<ellipse cx="730.5" cy="1365.0" rx="2.45" ry="2.85" fill="none" stroke="#111" stroke-width="1.5"/>
<ellipse cx="719.4" cy="1373.4" rx="2.45" ry="2.85" fill="none" stroke="#111" stroke-width="1.5"/>
<ellipse cx="713.9" cy="1376.5" rx="2.45" ry="2.85" fill="none" stroke="#111" stroke-width="1.5"/>
<ellipse cx="727.5" cy="1377.1" rx="2.45" ry="2.85" fill="none" stroke="#111" stroke-width="1.5"/>
<ellipse cx="782.8" cy="1383.1" rx="2.45" ry="2.85" fill="none" stroke="#111" stroke-width="1.5"/>
<ellipse cx="719.4" cy="1386.1" rx="2.45" ry="2.85" fill="none" stroke="#111" stroke-width="1.5"/>
<ellipse cx="731.4" cy="1398.5" rx="2.45" ry="2.85" fill="none" stroke="#111" stroke-width="1.5"/>
<ellipse cx="745.6" cy="1397.6" rx="2.45" ry="2.85" fill="none" stroke="#111" stroke-width="1.5"/>
<ellipse cx="728.4" cy="1418.4" rx="2.45" ry="2.85" fill="none" stroke="#111" stroke-width="1.5"/>
<ellipse cx="727.5" cy="1424.2" rx="2.45" ry="2.85" fill="none" stroke="#111" stroke-width="1.5"/>
<ellipse cx="784.0" cy="1432.0" rx="2.45" ry="2.85" fill="none" stroke="#111" stroke-width="1.5"/>
<ellipse cx="740.5" cy="1443.2" rx="2.45" ry="2.85" fill="none" stroke="#111" stroke-width="1.5"/>
<ellipse cx="899.3" cy="1442.6" rx="2.45" ry="2.85" fill="none" stroke="#111" stroke-width="1.5"/>
<ellipse cx="833.8" cy="1470.0" rx="2.45" ry="2.85" fill="none" stroke="#111" stroke-width="1.5"/>
<ellipse cx="742.6" cy="1477.0" rx="2.45" ry="2.85" fill="none" stroke="#111" stroke-width="1.5"/>
<ellipse cx="778.5" cy="1484.5" rx="2.45" ry="2.85" fill="none" stroke="#111" stroke-width="1.5"/>
<ellipse cx="765.0" cy="1501.4" rx="2.45" ry="2.85" fill="none" stroke="#111" stroke-width="1.5"/>
<ellipse cx="753.8" cy="1525.6" rx="2.45" ry="2.85" fill="none" stroke="#111" stroke-width="1.5"/>
<ellipse cx="836.5" cy="1528.0" rx="2.45" ry="2.85" fill="none" stroke="#111" stroke-width="1.5"/>
<ellipse cx="838.6" cy="1534.3" rx="2.45" ry="2.85" fill="none" stroke="#111" stroke-width="1.5"/>
<ellipse cx="814.5" cy="1533.7" rx="2.45" ry="2.85" fill="none" stroke="#111" stroke-width="1.5"/>
<ellipse cx="769.8" cy="1545.8" rx="2.45" ry="2.85" fill="none" stroke="#111" stroke-width="1.5"/>
<ellipse cx="802.1" cy="1544.9" rx="2.45" ry="2.85" fill="none" stroke="#111" stroke-width="1.5"/>
<ellipse cx="834.4" cy="1548.2" rx="2.45" ry="2.85" fill="none" stroke="#111" stroke-width="1.5"/>
<ellipse cx="864.0" cy="1549.4" rx="2.45" ry="2.85" fill="none" stroke="#111" stroke-width="1.5"/>
<ellipse cx="751.7" cy="1552.1" rx="2.45" ry="2.85" fill="none" stroke="#111" stroke-width="1.5"/>
<ellipse cx="921.3" cy="1557.3" rx="2.45" ry="2.85" fill="none" stroke="#111" stroke-width="1.5"/>
<ellipse cx="875.1" cy="1567.2" rx="2.45" ry="2.85" fill="none" stroke="#111" stroke-width="1.5"/>
<ellipse cx="910.7" cy="1566.6" rx="2.45" ry="2.85" fill="none" stroke="#111" stroke-width="1.5"/>
<ellipse cx="758.0" cy="1569.9" rx="2.45" ry="2.85" fill="none" stroke="#111" stroke-width="1.5"/>
<ellipse cx="971.7" cy="1573.3" rx="2.45" ry="2.85" fill="none" stroke="#111" stroke-width="1.5"/>
<text x="923.7" y="1301.9" class="se" font-size="33" fill="#111" textLength="106.0" lengthAdjust="spacingAndGlyphs">r=-0.737</text>
<text x="923.7" y="1363.2" class="se" font-size="33" fill="#111" textLength="100.0" lengthAdjust="spacingAndGlyphs">p=0.001</text>
<text x="627.3" y="1665.0" class="se b" font-size="35" fill="#111" textLength="446.4" lengthAdjust="spacingAndGlyphs">Relative expression of miR-142-3p</text>
<text x="597.0" y="1651.7" class="se b" font-size="28.5" fill="#111" textLength="297.8" lengthAdjust="spacingAndGlyphs" transform="rotate(-90 597.0 1651.7)">Relative expression of</text>
<text x="597.0" y="1347.0" class="se b" font-size="28.5" fill="#111" textLength="131.2" lengthAdjust="spacingAndGlyphs" transform="rotate(-90 597.0 1347.0)">ATG16L1</text>
</g>
<g id="D">
<rect x="1115.5" y="945.5" width="308.5" height="628" fill="#f3dfde"/>
<rect x="1117.3" y="945.5" width="306.7" height="626.2" fill="#f7e4e3"/>
<text x="1139.5" y="993.2" class="se" font-size="36" fill="#2a1718" textLength="268.0" lengthAdjust="spacingAndGlyphs" stroke="#2a1718" stroke-width="1.0">Sorafenib absence</text>
<ellipse cx="1198.9" cy="1031.8" rx="24.7" ry="20.7" fill="#dc3a45"/>
<text x="1180.3" y="1045.7" class="se" font-size="41.7" fill="#4a1016" textLength="39.5" lengthAdjust="spacingAndGlyphs">PU.1</text>
<rect x="1194.7" y="1052" width="142.3" height="62.5" rx="17" ry="19" fill="#cdb9dc"/>
<text x="1203.8" y="1094.5" class="se" font-size="51" fill="#2e2030" textLength="122.0" lengthAdjust="spacingAndGlyphs">miR-142-3p</text>
<path d="M1354.3 1100.3 L1354.3 1080.8 L1351.5 1080.8 L1356.4 1064.6 L1361.3 1080.8 L1358.5 1080.8 L1358.5 1100.3 Z" fill="#2a1718"/>
<path d="M1263.8 1123.1 L1263.8 1143.1 L1261.3 1143.1 L1265.8 1158.9 L1270.3 1143.1 L1267.8 1143.1 L1267.8 1123.1 Z" fill="#2a1718"/>
<defs><linearGradient id="gG1" x1="0" x2="1" y1="0" y2="0"><stop offset="0" stop-color="#9fd65c"/><stop offset="0.25" stop-color="#b4e078"/><stop offset="0.75" stop-color="#b4e078"/><stop offset="1" stop-color="#9fd65c"/></linearGradient><linearGradient id="gG2" x1="0" x2="1" y1="0" y2="0"><stop offset="0" stop-color="#9ed062"/><stop offset="0.25" stop-color="#b2dc80"/><stop offset="0.75" stop-color="#b2dc80"/><stop offset="1" stop-color="#9ed062"/></linearGradient></defs>
<path d="M1255.6 1167.3 L1338 1155.7 L1352.2 1212.4 L1279.2 1260.7 L1255.6 1248.1 Z" fill="#b4d4e6"/>
<rect x="1185.7" y="1173.6" width="73.5" height="76.1" rx="12" ry="14" fill="url(#gG1)"/>
<text x="1187.6" y="1222.9" class="se" font-size="55" fill="#22220f" textLength="67.5" lengthAdjust="spacingAndGlyphs">ATG5</text>
<text class="se" font-size="20" fill="#20202a" textLength="79" lengthAdjust="spacingAndGlyphs" transform="translate(1261.5 1225.2) scale(1 2.0) rotate(-8)">ATG16L1</text>
<line x1="1280.5" y1="1273.4" x2="1280.5" y2="1287.7" stroke="#2a1718" stroke-width="2" />
<line x1="1280.5" y1="1298.2" x2="1280.5" y2="1315.4" stroke="#2a1718" stroke-width="2" />
<line x1="1280.5" y1="1326.8" x2="1280.5" y2="1346.9" stroke="#2a1718" stroke-width="2" />
<path d="M1279.3 1346.9 L1279.1 1350 L1280.5 1412.7 L1281.9 1350 L1281.7 1346.9 Z" fill="#2a1718"/>
<path d="M1312.8 1315.2 L1382.0 1315.2 L1382.0 1312.9 L1440.3 1317.3 L1382.0 1321.7 L1382.0 1319.4 L1312.8 1319.4 Z" fill="#2a1718"/>
<line x1="1322.9" y1="1333.5" x2="1400.2" y2="1293.4" stroke="#d9686b" stroke-width="1.3" />
<line x1="1346.3" y1="1287.1" x2="1371.6" y2="1347.8" stroke="#d9686b" stroke-width="1.3" />
<ellipse cx="1185.8" cy="1435.6" rx="38" ry="32" fill="#b683c2"/>
<text x="1163.6" y="1452.8" class="se" font-size="52" fill="#3a1f3a" textLength="43.5" lengthAdjust="spacingAndGlyphs">LC3</text>
<path d="M1244.4 1434.6 L1291.2 1434.6 L1291.2 1432.3 L1333.0 1436.2 L1291.2 1440.1 L1291.2 1437.8 L1244.4 1437.8 Z" fill="#2a1718"/>
<mask id="biteL"><rect x="1300" y="1380" width="140" height="120" fill="#fff"/><circle cx="1422" cy="1437" r="20.8" fill="#000"/></mask>
<ellipse cx="1382.2" cy="1438" rx="37.5" ry="31.8" fill="#b683c2" mask="url(#biteL)"/>
<text x="1355.8" y="1453.9" class="se" font-size="52" fill="#3a1f3a" textLength="42.8" lengthAdjust="spacingAndGlyphs">LC3</text>
<line x1="1378.8" y1="1498.0" x2="1369.9" y2="1552.7" stroke="#4444a8" stroke-width="1" />
<line x1="1381.9" y1="1498.0" x2="1390.4" y2="1554.3" stroke="#4444a8" stroke-width="1.4" stroke-dasharray="5 1.2"/>
<ellipse cx="1380.8" cy="1483.4" rx="7.8" ry="15.1" fill="#4d3b4b"/>
<line x1="1382.0" y1="1470.5" x2="1379.8" y2="1498.0" stroke="#3f3f8f" stroke-width="2.4" />
<text x="1370.3" y="1566.7" class="se" font-size="28" fill="#3a2a3a" textLength="18.0" lengthAdjust="spacingAndGlyphs">PE</text>
<rect x="1644.3" y="944.2" width="349" height="623.3" fill="#e4f3dd"/>
<rect x="1650" y="944.2" width="341" height="617.5" fill="#ebf5e2"/>
<text x="1707.9" y="987.3" class="se b" font-size="35.5" fill="#0c0c0c" textLength="280.5" lengthAdjust="spacingAndGlyphs">Sorafenib presence</text>
<ellipse cx="1693.7" cy="1017.7" rx="24.7" ry="21" fill="#d9554b"/>
<text x="1675.8" y="1031.2" class="se" font-size="40" fill="#4a1a18" textLength="38.2" lengthAdjust="spacingAndGlyphs">PU.1</text>
<rect x="1690" y="1038.7" width="141" height="62.3" rx="17" ry="19" fill="#c4cfe8"/>
<text x="1698.5" y="1080.0" class="se" font-size="52" fill="#243024" textLength="121.6" lengthAdjust="spacingAndGlyphs">miR-142-3p</text>
<path d="M1848.1 1047.7 L1848.1 1066.5 L1845.4 1066.5 L1850.2 1083.7 L1855.0 1066.5 L1852.3 1066.5 L1852.3 1047.7 Z" fill="#1c2a1c"/>
<line x1="1823.5" y1="1098.3" x2="1848.7" y2="1154.7" stroke="#1c2a1c" stroke-width="1.5" />
<line x1="1855.0" y1="1143.5" x2="1843.3" y2="1167.0" stroke="#1c2a1c" stroke-width="1.5" />
<path d="M1851.3 1175.2 L1936.4 1158.9 L1948.5 1213.5 L1877.1 1264.9 L1852.4 1252.3 Z" fill="#acdde1"/>
<rect x="1783.1" y="1177.3" width="75.1" height="76.6" rx="12" ry="14" fill="url(#gG2)"/>
<text x="1785.4" y="1226.1" class="se" font-size="53" fill="#173015" textLength="65.6" lengthAdjust="spacingAndGlyphs">ATG5</text>
<text class="se" font-size="21" fill="#16302e" textLength="80" lengthAdjust="spacingAndGlyphs" transform="translate(1858.3 1228.4) scale(1 2.0) rotate(-7.6)">ATG16L1</text>
<line x1="1860.0" y1="1270.5" x2="1860.0" y2="1284.5" stroke="#1c2a1c" stroke-width="2" />
<line x1="1860.0" y1="1294.6" x2="1860.0" y2="1313.9" stroke="#1c2a1c" stroke-width="2" />
<line x1="1860.0" y1="1324.1" x2="1860.0" y2="1345.4" stroke="#1c2a1c" stroke-width="2" />
<path d="M1858.8 1345.4 L1858.6 1349 L1860 1410.3 L1861.4 1349 L1861.2 1345.4 Z" fill="#1c2a1c"/>
<path d="M1760.0 1312.7 L1691.0 1312.7 L1691.0 1310.3 L1631.2 1314.9 L1691.0 1319.5 L1691.0 1317.2 L1760.0 1317.2 Z" fill="#1c2a1c"/>
<mask id="biteR"><rect x="1700" y="1380" width="140" height="120" fill="#fff"/><circle cx="1712" cy="1434" r="25" fill="#000"/></mask>
<ellipse cx="1757" cy="1435.5" rx="38.2" ry="31.5" fill="#c8acd8" mask="url(#biteR)"/>
<text x="1740.4" y="1449.7" class="se" font-size="52.5" fill="#2e2238" textLength="43.3" lengthAdjust="spacingAndGlyphs">LC3</text>
<path d="M1895.7 1431.5 L1849.2 1431.5 L1849.2 1429.3 L1808.3 1433.2 L1849.2 1437.1 L1849.2 1434.9 L1895.7 1434.9 Z" fill="#1c2a1c"/>
<ellipse cx="1954.2" cy="1432.5" rx="38.2" ry="32.2" fill="#c8acd8"/>
<text x="1932.0" y="1451.7" class="se" font-size="52.5" fill="#2e2238" textLength="44.5" lengthAdjust="spacingAndGlyphs">LC3</text>
<line x1="1757.7" y1="1496.0" x2="1748.7" y2="1549.5" stroke="#4455aa" stroke-width="1" />
<line x1="1761.5" y1="1496.0" x2="1770.5" y2="1557.0" stroke="#4455aa" stroke-width="1.4" stroke-dasharray="5 1.2"/>
<ellipse cx="1759.2" cy="1480.7" rx="7.5" ry="15.5" fill="#3f4b3a"/>
<line x1="1761.0" y1="1468.0" x2="1759.0" y2="1495.5" stroke="#3c4c86" stroke-width="2.4" />
<text x="1749.8" y="1563.7" class="se" font-size="27.5" fill="#26322a" textLength="18.7" lengthAdjust="spacingAndGlyphs">PE</text>
<ellipse cx="1455.7" cy="1192.9" rx="7.2" ry="14" fill="#8f8f8f"/>
<ellipse cx="1515.2" cy="1160.4" rx="7.2" ry="14" fill="#8f8f8f"/>
<ellipse cx="1516.9" cy="1207.6" rx="7.2" ry="14" fill="#8f8f8f"/>
<ellipse cx="1576.1" cy="1206.1" rx="7.2" ry="14" fill="#8f8f8f"/>
<ellipse cx="1475.3" cy="1228.9" rx="7.2" ry="14" fill="#8f8f8f"/>
<ellipse cx="1560.4" cy="1243.6" rx="7.2" ry="14" fill="#8f8f8f"/>
<ellipse cx="1576.1" cy="1334.9" rx="7.2" ry="14" fill="#8f8f8f"/>
<ellipse cx="1600.6" cy="1338.6" rx="7.2" ry="14" fill="#8f8f8f"/>
<ellipse cx="1488.2" cy="1423.5" rx="7.2" ry="14" fill="#8f8f8f"/>
<ellipse cx="1540.6" cy="1420.5" rx="7.2" ry="14" fill="#8f8f8f"/>
<ellipse cx="1474.5" cy="1470.0" rx="7.2" ry="14" fill="#8f8f8f"/>
<ellipse cx="1554.8" cy="1460.2" rx="7.2" ry="14" fill="#8f8f8f"/>
<ellipse cx="1482.6" cy="1167.7" rx="7.3" ry="14.6" fill="#2b2b2b"/>
<ellipse cx="1548.0" cy="1173.8" rx="7.3" ry="14.6" fill="#2b2b2b"/>
<ellipse cx="1595.2" cy="1269.8" rx="7.3" ry="14.6" fill="#2b2b2b"/>
<ellipse cx="1587.4" cy="1403.9" rx="7.3" ry="14.6" fill="#2b2b2b"/>
<ellipse cx="1515.2" cy="1481.0" rx="7.3" ry="14.6" fill="#2b2b2b"/>
<path d="M1451.3 1218.4 L1454.7 1212.7 L1458.2 1207.3 L1461.9 1202.3 L1465.8 1197.6 L1469.8 1193.4 L1473.9 1189.5 L1478.2 1186.1 L1482.5 1183.0 L1487.0 1180.5 L1491.5 1178.3 L1496.1 1176.7 L1500.7 1175.4 L1505.4 1174.7 L1510.1 1174.4 L1514.8 1174.5 L1519.4 1175.1 L1524.1 1176.2 L1528.7 1177.8 L1533.2 1179.8 L1537.7 1182.2 L1542.1 1185.1 L1546.4 1188.4 L1550.6 1192.1 L1554.6 1196.3 L1558.5 1200.8 L1562.3 1205.7 L1565.9 1211.0 L1569.3 1216.6 L1572.5 1222.5 L1575.5 1228.8 L1578.3 1235.3 L1580.9 1242.1 L1583.3 1249.2 L1585.4 1256.4 L1587.3 1263.9 L1589.0 1271.6 L1590.4 1279.4 L1591.5 1287.3 L1592.4 1295.3 L1593.0 1303.4 L1593.4 1311.6 L1593.5 1319.8 L1593.3 1327.9 L1592.9 1336.1 L1592.2 1344.1 L1591.2 1352.2 L1590.0 1360.0 L1588.5 1367.8 L1586.8 1375.4 L1584.8 1382.8 L1582.6 1390.0 L1580.2 1397.0 L1577.5 1403.7 L1574.6 1410.2 L1571.5 1416.3 L1568.2 1422.2 L1564.8 1427.7 L1561.1 1432.9 L1557.3 1437.6 L1553.4 1442.1 L1549.3 1446.1 L1545.1 1449.7 L1540.8 1452.8 L1536.4 1455.6 L1531.9 1457.9 L1527.3 1459.8 L1522.7 1461.2 L1518.0 1462.1 L1513.3 1462.6 L1508.6 1462.6 L1504.0 1462.2 L1499.3 1461.2 L1494.7 1459.9 L1490.1 1458.1 L1485.6 1455.8 L1481.2 1453.1 L1476.8 1449.9 L1472.6 1446.4 L1468.5 1442.4 L1464.6 1438.0 L1470.1 1423.6 L1473.6 1427.4 L1477.2 1430.9 L1480.9 1434.0 L1484.7 1436.8 L1488.6 1439.2 L1492.6 1441.2 L1496.6 1442.8 L1500.7 1444.0 L1504.8 1444.8 L1508.9 1445.2 L1513.0 1445.2 L1517.1 1444.7 L1521.2 1443.9 L1525.3 1442.7 L1529.3 1441.0 L1533.3 1439.0 L1537.1 1436.6 L1540.9 1433.8 L1544.7 1430.6 L1548.2 1427.1 L1551.7 1423.2 L1555.1 1419.0 L1558.3 1414.5 L1561.3 1409.7 L1564.2 1404.5 L1566.9 1399.1 L1569.4 1393.4 L1571.8 1387.5 L1573.9 1381.4 L1575.9 1375.0 L1577.6 1368.5 L1579.1 1361.8 L1580.4 1355.0 L1581.5 1348.1 L1582.3 1341.0 L1583.0 1333.9 L1583.3 1326.8 L1583.5 1319.6 L1583.4 1312.4 L1583.1 1305.3 L1582.6 1298.1 L1581.8 1291.1 L1580.8 1284.1 L1579.5 1277.2 L1578.1 1270.5 L1576.4 1263.9 L1574.5 1257.6 L1572.5 1251.4 L1570.2 1245.4 L1567.7 1239.6 L1565.0 1234.1 L1562.2 1228.9 L1559.2 1224.0 L1556.1 1219.3 L1552.8 1215.0 L1549.3 1211.0 L1545.8 1207.4 L1542.1 1204.1 L1538.3 1201.2 L1534.5 1198.7 L1530.5 1196.5 L1526.5 1194.8 L1522.5 1193.4 L1518.4 1192.5 L1514.3 1191.9 L1510.2 1191.8 L1506.0 1192.1 L1501.9 1192.7 L1497.9 1193.8 L1493.8 1195.3 L1489.8 1197.2 L1485.9 1199.4 L1482.1 1202.1 L1478.4 1205.1 L1474.7 1208.5 L1471.2 1212.2 L1467.8 1216.3 L1464.6 1220.7 L1461.5 1225.4 L1458.5 1230.5 Z" fill="#fff" stroke="#1a1a1a" stroke-width="2.9" stroke-linejoin="miter"/>
<text x="1562.9" y="1160.4" class="se" font-size="50" fill="#222" textLength="42.8" lengthAdjust="spacingAndGlyphs">LC3</text>
<text x="1583.7" y="1494.4" class="se" font-size="50" fill="#222" textLength="42.8" lengthAdjust="spacingAndGlyphs">LC3</text>
</g>
</svg></body></html>
